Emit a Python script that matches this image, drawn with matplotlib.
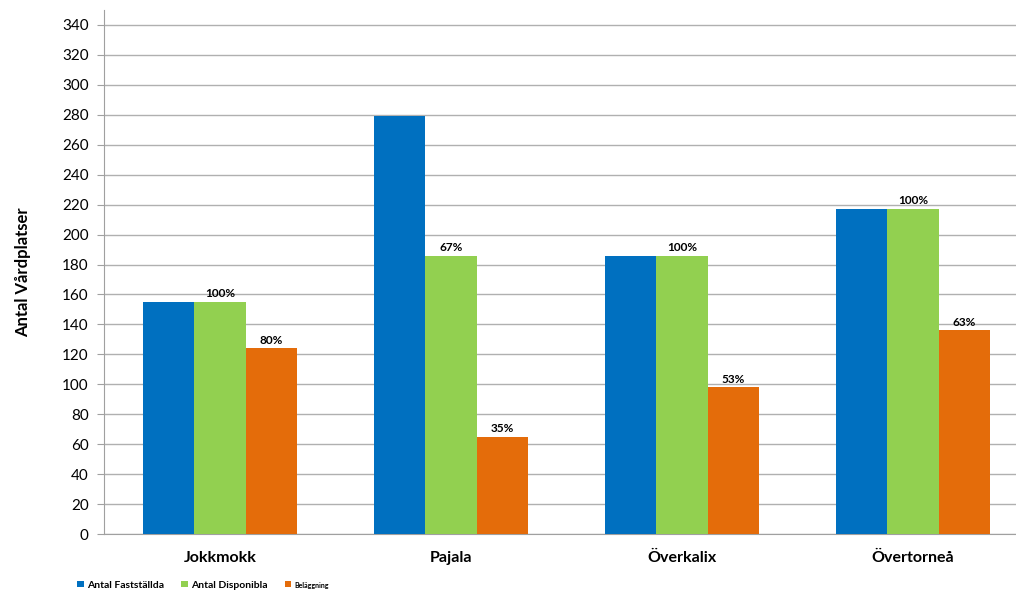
import numpy as np
import matplotlib.pyplot as plt

plt.rcParams['font.family'] = ['Lato', 'DejaVu Sans']

kommuner = ["Jokkmokk", "Pajala", "Överkalix", "Övertorneå"]
faststallda = [155, 279, 186, 217]
disponibla = [155, 186, 186, 217]
belaggning = [124, 65, 98, 136]
disp_labels = ["100%", "67%", "100%", "100%"]
bel_labels = ["80%", "35%", "53%", "63%"]

fig = plt.figure(figsize=(10.16, 5.92), dpi=100)
ax = fig.add_axes([104 / 1016, 1 - 534 / 592, 912 / 1016, 524 / 592])

x = np.arange(len(kommuner))
w = 0.222
b1 = ax.bar(x - w, faststallda, w, color="#0070C0", label="Antal Fastställda", zorder=3)
b2 = ax.bar(x, disponibla, w, color="#92D050", label="Antal Disponibla", zorder=3)
b3 = ax.bar(x + w, belaggning, w, color="#E46C0A", label="Beläggning", zorder=3)

ax.bar_label(b2, labels=disp_labels, padding=2, fontsize=8.5, fontweight="bold")
ax.bar_label(b3, labels=bel_labels, padding=2, fontsize=8.5, fontweight="bold")

ax.set_xlim(-0.502, 3.446)
ax.set_ylim(0, 350)
ax.set_yticks(range(0, 341, 20))
ax.set_xticks(x)
ax.set_xticklabels(kommuner, fontsize=11.5, fontweight="bold")
ax.tick_params(axis="x", length=0, pad=12)
ax.tick_params(axis="y", length=5, color="#a0a0a0", labelsize=11, pad=6)
ax.grid(axis="y", color="#b0b0b0", linewidth=1, zorder=0)
ax.set_ylabel("Antal Vårdplatser", fontsize=12, fontweight="bold", labelpad=22)

for s in ["top", "right"]:
    ax.spines[s].set_visible(False)
ax.spines["left"].set_color("#a0a0a0")
ax.spines["bottom"].set_color("#a0a0a0")

leg = fig.legend(loc="lower left", bbox_to_anchor=(68 / 1016, -0.012), ncol=3,
                 frameon=False, handlelength=0.6, handleheight=0.6,
                 handletextpad=0.3, columnspacing=1.7, prop={"size": 7.5, "weight": "bold"})
leg.get_texts()[2].set_fontsize(5)

fig.savefig("out.png", dpi=100)
